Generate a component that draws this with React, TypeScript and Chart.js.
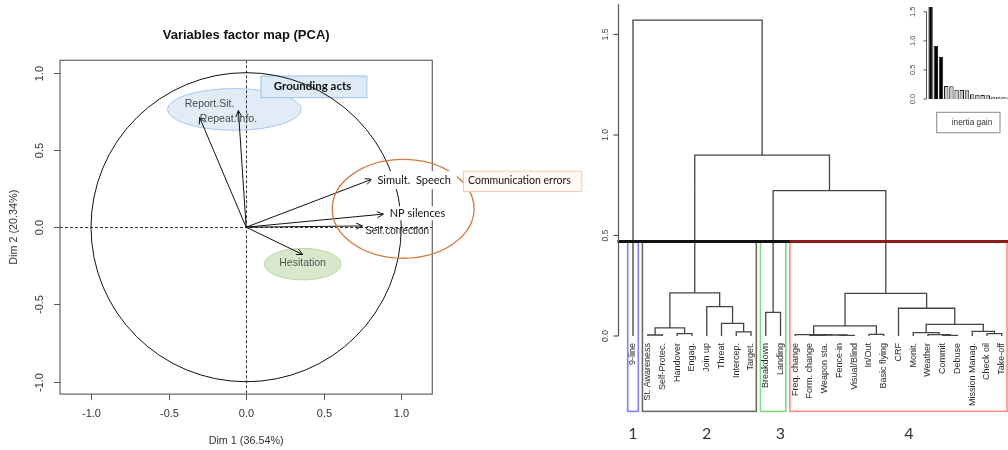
import React, { useEffect, useRef } from "react";
import { Chart, registerables } from "chart.js";
Chart.register(...registerables);

// ---------------- PCA variables factor map ----------------
const pcaVariables = ["Report.Sit.", "Repeat.Info.", "Simult.  Speech", "NP silences", "Self.correction", "Hesitation"];
const pcaDim1 = [-0.05, -0.3, 0.81, 0.885, 0.75, 0.365];
const pcaDim2 = [0.755, 0.71, 0.31, 0.085, 0.008, -0.177];
const pcaTicks = [-1, -0.5, 0, 0.5, 1];
const pcaTickLabels = ["-1.0", "-0.5", "0.0", "0.5", "1.0"];
const pcaTitle = "Variables factor map (PCA)";
const pcaXTitle = "Dim 1 (36.54%)";
const pcaYTitle = "Dim 2 (20.34%)";
const groupNames = ["Grounding acts", "Communication errors"];

// ---------------- Dendrogram ----------------
const leafLabels = [
  "9-line", "St. Awareness", "Self-Protec.", "Handover", "Engag.", "Join up", "Threat", "Intercep.", "Target.",
  "Breakdown", "Landing",
  "Freq. change", "Form. change", "Weapon sta.", "Fence-in", "Visual/Blind", "In/Out", "Basic flying", "CRF",
  "Monit.", "Weather", "Commit", "Debuse", "Mission Manag.", "Check oil", "Take-off",
];
// R hclust style merges: negative = leaf (1-based), positive = earlier merge (1-based)
const mergeA = [-2, -4, -8, -13, -15, 4, -12, -17, -22, -21, -20, -25, -24, 1, -7, -6, 14, -10, 7, 11, -19, 19, 18, 17, -1];
const mergeB = [-3, -5, -9, -14, -16, 5, 6, -18, -23, 9, 10, -26, 12, 2, 3, 15, 16, -11, 8, 13, 20, 21, 22, 23, 24];
const mergeHeight = [0.005, 0.012, 0.021, 0.003, 0.003, 0.005, 0.007, 0.008, 0.003, 0.007, 0.017, 0.012, 0.023, 0.04, 0.063, 0.146, 0.215, 0.118, 0.05, 0.058, 0.138, 0.212, 0.723, 0.9, 1.572];
const leafCluster = [1, 2, 2, 2, 2, 2, 2, 2, 2, 3, 3, 4, 4, 4, 4, 4, 4, 4, 4, 4, 4, 4, 4, 4, 4, 4];
const clusterNames = ["1", "2", "3", "4"];
const cutHeight = 0.47;
const dendroTicks = [0, 0.5, 1.0, 1.5];
const dendroTickLabels = ["0.0", "0.5", "1.0", "1.5"];

// ---------------- Inertia gain inset ----------------
const inertiaGain = [1.58, 0.91, 0.72, 0.225, 0.22, 0.16, 0.155, 0.15, 0.08, 0.075, 0.07, 0.065, 0.03, 0.03, 0.028, 0.025, 0.02, 0.018, 0.015, 0.012, 0.01, 0.008, 0.006, 0.005, 0.004];
const inertiaTicks = [0, 0.5, 1.0, 1.5];
const inertiaTickLabels = ["0.0", "0.5", "1.0", "1.5"];
const inertiaLegend = "inertia gain";

// ---------------- styles ----------------
const FONT_R = '"Liberation Sans", Arial, sans-serif';
const FONT_PPT = 'Lato, "Open Sans", sans-serif';

function ellipse(ctx: CanvasRenderingContext2D, cx: number, cy: number, rx: number, ry: number, fill: string | null, stroke: string | null, lw = 1) {
  ctx.beginPath();
  ctx.ellipse(cx, cy, Math.abs(rx), Math.abs(ry), 0, 0, Math.PI * 2);
  if (fill) { ctx.fillStyle = fill; ctx.fill(); }
  if (stroke) { ctx.strokeStyle = stroke; ctx.lineWidth = lw; ctx.stroke(); }
}

const pcaPlugin = {
  id: "pcaDecor",
  beforeDatasetsDraw(chart: any) {
    const { ctx, chartArea: a, scales } = chart;
    const px = (v: number) => scales.x.getPixelForValue(v);
    const py = (v: number) => scales.y.getPixelForValue(v);
    const ux = (v: number) => px(v) - px(0);
    const uy = (v: number) => py(0) - py(v);
    ctx.save();
    // group fills
    ellipse(ctx, px(-0.076), py(0.762), ux(0.431), uy(0.135), "rgba(222,234,246,0.9)", "#a9c9e9", 1);
    ellipse(ctx, px(0.365), py(-0.239), ux(0.247), uy(0.102), "rgb(217,232,205)", "#b9d7a3", 1);
    ctx.fillStyle = "#deebf7";
    ctx.strokeStyle = "#9dc3e6";
    ctx.lineWidth = 1;
    const gx1 = px(0.092), gy1 = py(0.981), gx2 = px(0.775), gy2 = py(0.841);
    ctx.fillRect(gx1, gy1, gx2 - gx1, gy2 - gy1);
    ctx.strokeRect(gx1 + 0.5, gy1 + 0.5, gx2 - gx1, gy2 - gy1);
    // dashed axes
    ctx.setLineDash([3, 2]);
    ctx.strokeStyle = "#333";
    ctx.lineWidth = 1;
    ctx.beginPath();
    ctx.moveTo(Math.round(px(0)) + 0.5, a.top);
    ctx.lineTo(Math.round(px(0)) + 0.5, a.bottom);
    ctx.moveTo(a.left, Math.round(py(0)) + 0.5);
    ctx.lineTo(a.right, Math.round(py(0)) + 0.5);
    ctx.stroke();
    ctx.setLineDash([]);
    // unit circle
    ctx.beginPath();
    ctx.ellipse(px(0), py(0), ux(1), uy(1), 0, 0, Math.PI * 2);
    ctx.strokeStyle = "#111";
    ctx.lineWidth = 1;
    ctx.stroke();
    // plot box
    ctx.strokeStyle = "#666";
    ctx.lineWidth = 1.2;
    ctx.strokeRect(a.left, a.top, a.right - a.left, a.bottom - a.top);
    ctx.restore();
  },
  afterDatasetsDraw(chart: any) {
    const { ctx, chartArea: a, scales } = chart;
    const px = (v: number) => scales.x.getPixelForValue(v);
    const py = (v: number) => scales.y.getPixelForValue(v);
    const ux = (v: number) => px(v) - px(0);
    const uy = (v: number) => py(0) - py(v);
    ctx.save();
    // arrow heads
    ctx.strokeStyle = "#111";
    ctx.lineWidth = 1;
    pcaDim1.forEach((d1, i) => {
      const tx = px(d1), ty = py(pcaDim2[i]);
      const ang = Math.atan2(ty - py(0), tx - px(0));
      const L = 7, sp = Math.PI / 7;
      ctx.beginPath();
      ctx.moveTo(tx - L * Math.cos(ang - sp), ty - L * Math.sin(ang - sp));
      ctx.lineTo(tx, ty);
      ctx.lineTo(tx - L * Math.cos(ang + sp), ty - L * Math.sin(ang + sp));
      ctx.stroke();
    });
    // orange ellipse
    ellipse(ctx, px(1.012), py(0.119), ux(0.457), uy(0.32), null, "#d4793f", 1.3);

    // variable labels
    const lab = (txt: string, cx: number, cy: number, font: string, color: string, bg?: [number, number]) => {
      ctx.font = font;
      const w = ctx.measureText(txt).width;
      if (bg) {
        ctx.fillStyle = "#fff";
        ctx.fillRect(cx - w / 2 - bg[0], cy - bg[1], w + 2 * bg[0], 2 * bg[1]);
      }
      ctx.fillStyle = color;
      ctx.textAlign = "center";
      ctx.textBaseline = "middle";
      ctx.fillText(txt, cx, cy);
    };
    const rf = `10.5px ${FONT_R}`;
    lab(pcaVariables[0], px(-0.236), py(0.795), rf, "#4a4a4a");
    lab(pcaVariables[1], px(-0.114), py(0.698), rf, "#4a4a4a");
    lab(pcaVariables[2], px(1.083), py(0.305), `11px ${FONT_PPT}`, "#111", [6, 9]);
    lab(pcaVariables[3], px(1.104), py(0.09), `11px ${FONT_PPT}`, "#111", [3, 7]);
    lab(pcaVariables[4], px(0.973), py(-0.029), `10px ${FONT_R}`, "#222");
    lab(pcaVariables[5], px(0.364), py(-0.23), rf, "#555");
    // group labels
    lab(groupNames[0], px(0.428), py(0.911), `bold 11.5px ${FONT_PPT}`, "#111");
    const cx1 = px(1.398), cy1 = py(0.366), cx2 = px(2.16), cy2 = py(0.234);
    ctx.fillStyle = "#fffaf6";
    ctx.fillRect(cx1, cy1, cx2 - cx1, cy2 - cy1);
    ctx.strokeStyle = "#f7cbac";
    ctx.lineWidth = 1;
    ctx.strokeRect(cx1 + 0.5, cy1 + 0.5, cx2 - cx1, cy2 - cy1);
    ctx.font = `10.5px ${FONT_PPT}`;
    ctx.fillStyle = "#111";
    ctx.textAlign = "left";
    ctx.textBaseline = "middle";
    ctx.fillText(groupNames[1], cx1 + 5, (cy1 + cy2) / 2);

    // R-style axes
    ctx.strokeStyle = "#555";
    ctx.lineWidth = 1;
    ctx.fillStyle = "#333";
    ctx.font = `11px ${FONT_R}`;
    pcaTicks.forEach((t, i) => {
      const x = Math.round(px(t)) + 0.5;
      ctx.beginPath();
      ctx.moveTo(x, a.bottom);
      ctx.lineTo(x, a.bottom + 6);
      ctx.stroke();
      ctx.textAlign = "center";
      ctx.textBaseline = "middle";
      ctx.fillText(pcaTickLabels[i], x, a.bottom + 20);
      const y = Math.round(py(t)) + 0.5;
      ctx.beginPath();
      ctx.moveTo(a.left, y);
      ctx.lineTo(a.left - 6, y);
      ctx.stroke();
      ctx.save();
      ctx.translate(a.left - 20, y);
      ctx.rotate(-Math.PI / 2);
      ctx.fillText(pcaTickLabels[i], 0, 0);
      ctx.restore();
    });
    ctx.textAlign = "center";
    ctx.textBaseline = "middle";
    ctx.font = `10.8px ${FONT_R}`;
    ctx.fillText(pcaXTitle, (a.left + a.right) / 2, a.bottom + 47);
    ctx.save();
    ctx.translate(a.left - 46, (a.top + a.bottom) / 2);
    ctx.rotate(-Math.PI / 2);
    ctx.fillText(pcaYTitle, 0, 0);
    ctx.restore();
    ctx.fillStyle = "#111";
    ctx.font = `bold 13px ${FONT_R}`;
    ctx.fillText(pcaTitle, (a.left + a.right) / 2, 35);
    ctx.restore();
  },
};

function pcaConfig(): any {
  return {
    type: "scatter",
    data: {
      datasets: pcaVariables.map((name, i) => ({
        label: name,
        data: [{ x: 0, y: 0 }, { x: pcaDim1[i], y: pcaDim2[i] }],
        showLine: true,
        borderColor: "#111",
        borderWidth: 1,
        pointRadius: 0,
        fill: false,
      })),
    },
    options: {
      animation: false,
      responsive: false,
      maintainAspectRatio: false,
      layout: { padding: { left: 60, right: 157.7, top: 60.3, bottom: 55.9 } },
      scales: {
        x: { type: "linear", min: -1.2, max: 1.2, display: false },
        y: { type: "linear", min: -1.08, max: 1.08, display: false },
      },
      plugins: { legend: { display: false }, tooltip: { enabled: false } },
    },
    plugins: [pcaPlugin],
  };
}

// ---------------- dendrogram ----------------
const DENDRO_AXIS_X = -1.05; // in leaf units
const BOX_PAD = 0.36;
const BOX_BOTTOM = -0.375;
const CLUSTER_COLORS = ["#7f7fff", "#6a6a6a", "#7ddc7d", "#ff8c8c"];
const CLUSTER_LABEL_X = [0, 5, 10, 18.7];

function dendroSegments() {
  const nodeX: number[] = [];
  const getX = (c: number) => (c < 0 ? -c - 1 : nodeX[c - 1]);
  const getH = (c: number) => (c < 0 ? 0 : mergeHeight[c - 1]);
  const segs: { x: number; y: number }[][] = [];
  for (let i = 0; i < mergeA.length; i++) {
    const xa = getX(mergeA[i]), xb = getX(mergeB[i]);
    nodeX[i] = (xa + xb) / 2;
    const h = mergeHeight[i];
    segs.push([
      { x: xa, y: getH(mergeA[i]) },
      { x: xa, y: h },
      { x: xb, y: h },
      { x: xb, y: getH(mergeB[i]) },
    ]);
  }
  return segs;
}

const dendroPlugin = {
  id: "dendroDecor",
  afterDatasetsDraw(chart: any) {
    const { ctx, scales, width } = chart;
    const px = (v: number) => scales.x.getPixelForValue(v);
    const py = (v: number) => scales.y.getPixelForValue(v);
    ctx.save();
    // cluster rectangles
    let redLeft = width;
    clusterNames.forEach((_, k) => {
      const idx = leafCluster.map((c, i) => (c === k + 1 ? i : -1)).filter((i) => i >= 0);
      const x1 = px(Math.min(...idx) - BOX_PAD), x2 = px(Math.max(...idx) + BOX_PAD);
      const y1 = py(cutHeight), y2 = py(BOX_BOTTOM);
      ctx.strokeStyle = CLUSTER_COLORS[k];
      ctx.lineWidth = 1.6;
      ctx.strokeRect(x1, y1, x2 - x1, y2 - y1);
      if (k === 3) redLeft = x1;
    });
    // cut line
    const yc = py(cutHeight);
    ctx.lineWidth = 3;
    ctx.strokeStyle = "#111";
    ctx.beginPath();
    ctx.moveTo(px(DENDRO_AXIS_X), yc);
    ctx.lineTo(redLeft, yc);
    ctx.stroke();
    ctx.strokeStyle = "#8e1b1b";
    ctx.beginPath();
    ctx.moveTo(redLeft, yc);
    ctx.lineTo(width + 5, yc);
    ctx.stroke();
    // leaf labels
    ctx.fillStyle = "#2a2a2a";
    ctx.font = `9px ${FONT_R}`;
    ctx.textAlign = "right";
    ctx.textBaseline = "middle";
    leafLabels.forEach((lbl, i) => {
      ctx.save();
      ctx.translate(px(i), py(0) + 7);
      ctx.rotate(-Math.PI / 2);
      ctx.fillText(lbl, 0, 0);
      ctx.restore();
    });
    // y axis
    const ax = Math.round(px(DENDRO_AXIS_X)) + 0.5;
    ctx.strokeStyle = "#555";
    ctx.lineWidth = 1.2;
    ctx.beginPath();
    ctx.moveTo(ax, py(0));
    ctx.lineTo(ax, py(1.65));
    ctx.stroke();
    ctx.fillStyle = "#444";
    ctx.font = `8.5px ${FONT_R}`;
    ctx.textAlign = "center";
    dendroTicks.forEach((t, i) => {
      const y = py(t);
      ctx.beginPath();
      ctx.moveTo(ax, y);
      ctx.lineTo(ax - 5, y);
      ctx.stroke();
      ctx.save();
      ctx.translate(ax - 13, y);
      ctx.rotate(-Math.PI / 2);
      ctx.fillText(dendroTickLabels[i], 0, 0);
      ctx.restore();
    });
    // cluster numbers
    ctx.fillStyle = "#333";
    ctx.font = `16px ${FONT_PPT}`;
    clusterNames.forEach((n, k) => {
      ctx.fillText(n, px(CLUSTER_LABEL_X[k]), 434);
    });
    ctx.restore();
  },
};

function dendroConfig(): any {
  return {
    type: "line",
    data: {
      datasets: dendroSegments().map((seg) => ({
        data: seg,
        borderColor: "#444",
        borderWidth: 1.3,
        pointRadius: 0,
        tension: 0,
        fill: false,
        clip: false,
      })),
    },
    options: {
      animation: false,
      responsive: false,
      maintainAspectRatio: false,
      layout: { padding: { left: 13.5, right: 0.35, top: 4.35, bottom: 13.5 } },
      scales: {
        x: { type: "linear", min: -2, max: 25.4, display: false },
        y: { type: "linear", min: -0.5, max: 1.65, display: false },
      },
      plugins: { legend: { display: false }, tooltip: { enabled: false } },
    },
    plugins: [dendroPlugin],
  };
}

// ---------------- inertia inset ----------------
const inertiaPlugin = {
  id: "inertiaDecor",
  afterDatasetsDraw(chart: any) {
    const { ctx, chartArea: a, scales } = chart;
    const py = (v: number) => scales.y.getPixelForValue(v);
    ctx.save();
    const ax = a.left - 1.5;
    ctx.strokeStyle = "#555";
    ctx.lineWidth = 1;
    ctx.beginPath();
    ctx.moveTo(ax, py(0));
    ctx.lineTo(ax, py(1.5));
    ctx.stroke();
    ctx.fillStyle = "#444";
    ctx.font = `7.5px ${FONT_R}`;
    ctx.textAlign = "center";
    ctx.textBaseline = "middle";
    inertiaTicks.forEach((t, i) => {
      const y = py(t);
      ctx.beginPath();
      ctx.moveTo(ax, y);
      ctx.lineTo(ax - 3, y);
      ctx.stroke();
      ctx.save();
      ctx.translate(ax - 14, y);
      ctx.rotate(-Math.PI / 2);
      ctx.fillText(inertiaTickLabels[i], 0, 0);
      ctx.restore();
    });
    // legend box
    ctx.strokeStyle = "#888";
    ctx.lineWidth = 1;
    ctx.strokeRect(36.7, 112.3, 63.3, 20.4);
    ctx.fillStyle = "#333";
    ctx.font = `8.3px ${FONT_R}`;
    ctx.fillText(inertiaLegend, 72, 123);
    ctx.restore();
  },
};

function inertiaConfig(): any {
  return {
    type: "bar",
    data: {
      labels: inertiaGain.map((_, i) => String(i + 1)),
      datasets: [
        {
          data: inertiaGain,
          backgroundColor: inertiaGain.map((_, i) => (i < 3 ? "#000" : "#c8c8c8")),
          borderColor: "#222",
          borderWidth: 1,
          barPercentage: 0.85,
          categoryPercentage: 1,
        },
      ],
    },
    options: {
      animation: false,
      responsive: false,
      maintainAspectRatio: false,
      layout: { padding: { left: 28, right: 92, top: 5.9, bottom: 41 } },
      scales: {
        x: { display: false },
        y: { display: false, min: 0, max: 1.6 },
      },
      plugins: { legend: { display: false }, tooltip: { enabled: false } },
    },
    plugins: [inertiaPlugin],
  };
}

export default function App() {
  const pcaRef = useRef<HTMLCanvasElement>(null);
  const dendRef = useRef<HTMLCanvasElement>(null);
  const inertiaRef = useRef<HTMLCanvasElement>(null);
  useEffect(() => {
    const charts: Chart[] = [];
    charts.push(new Chart(pcaRef.current as HTMLCanvasElement, pcaConfig()));
    charts.push(new Chart(dendRef.current as HTMLCanvasElement, dendroConfig()));
    charts.push(new Chart(inertiaRef.current as HTMLCanvasElement, inertiaConfig()));
    return () => charts.forEach((c) => c.destroy());
  }, []);
  return (
    <div style={{ position: "absolute", left: 0, top: 0, width: 1008, height: 450, overflow: "hidden", background: "#fff" }}>
      <canvas ref={pcaRef} width={590} height={450} style={{ position: "absolute", left: 0, top: 0, width: 590, height: 450 }} />
      <canvas ref={dendRef} width={418} height={450} style={{ position: "absolute", left: 590, top: 0, width: 418, height: 450 }} />
      <canvas ref={inertiaRef} width={250} height={140} style={{ position: "absolute", left: 900, top: 0, width: 250, height: 140 }} />
    </div>
  );
}
